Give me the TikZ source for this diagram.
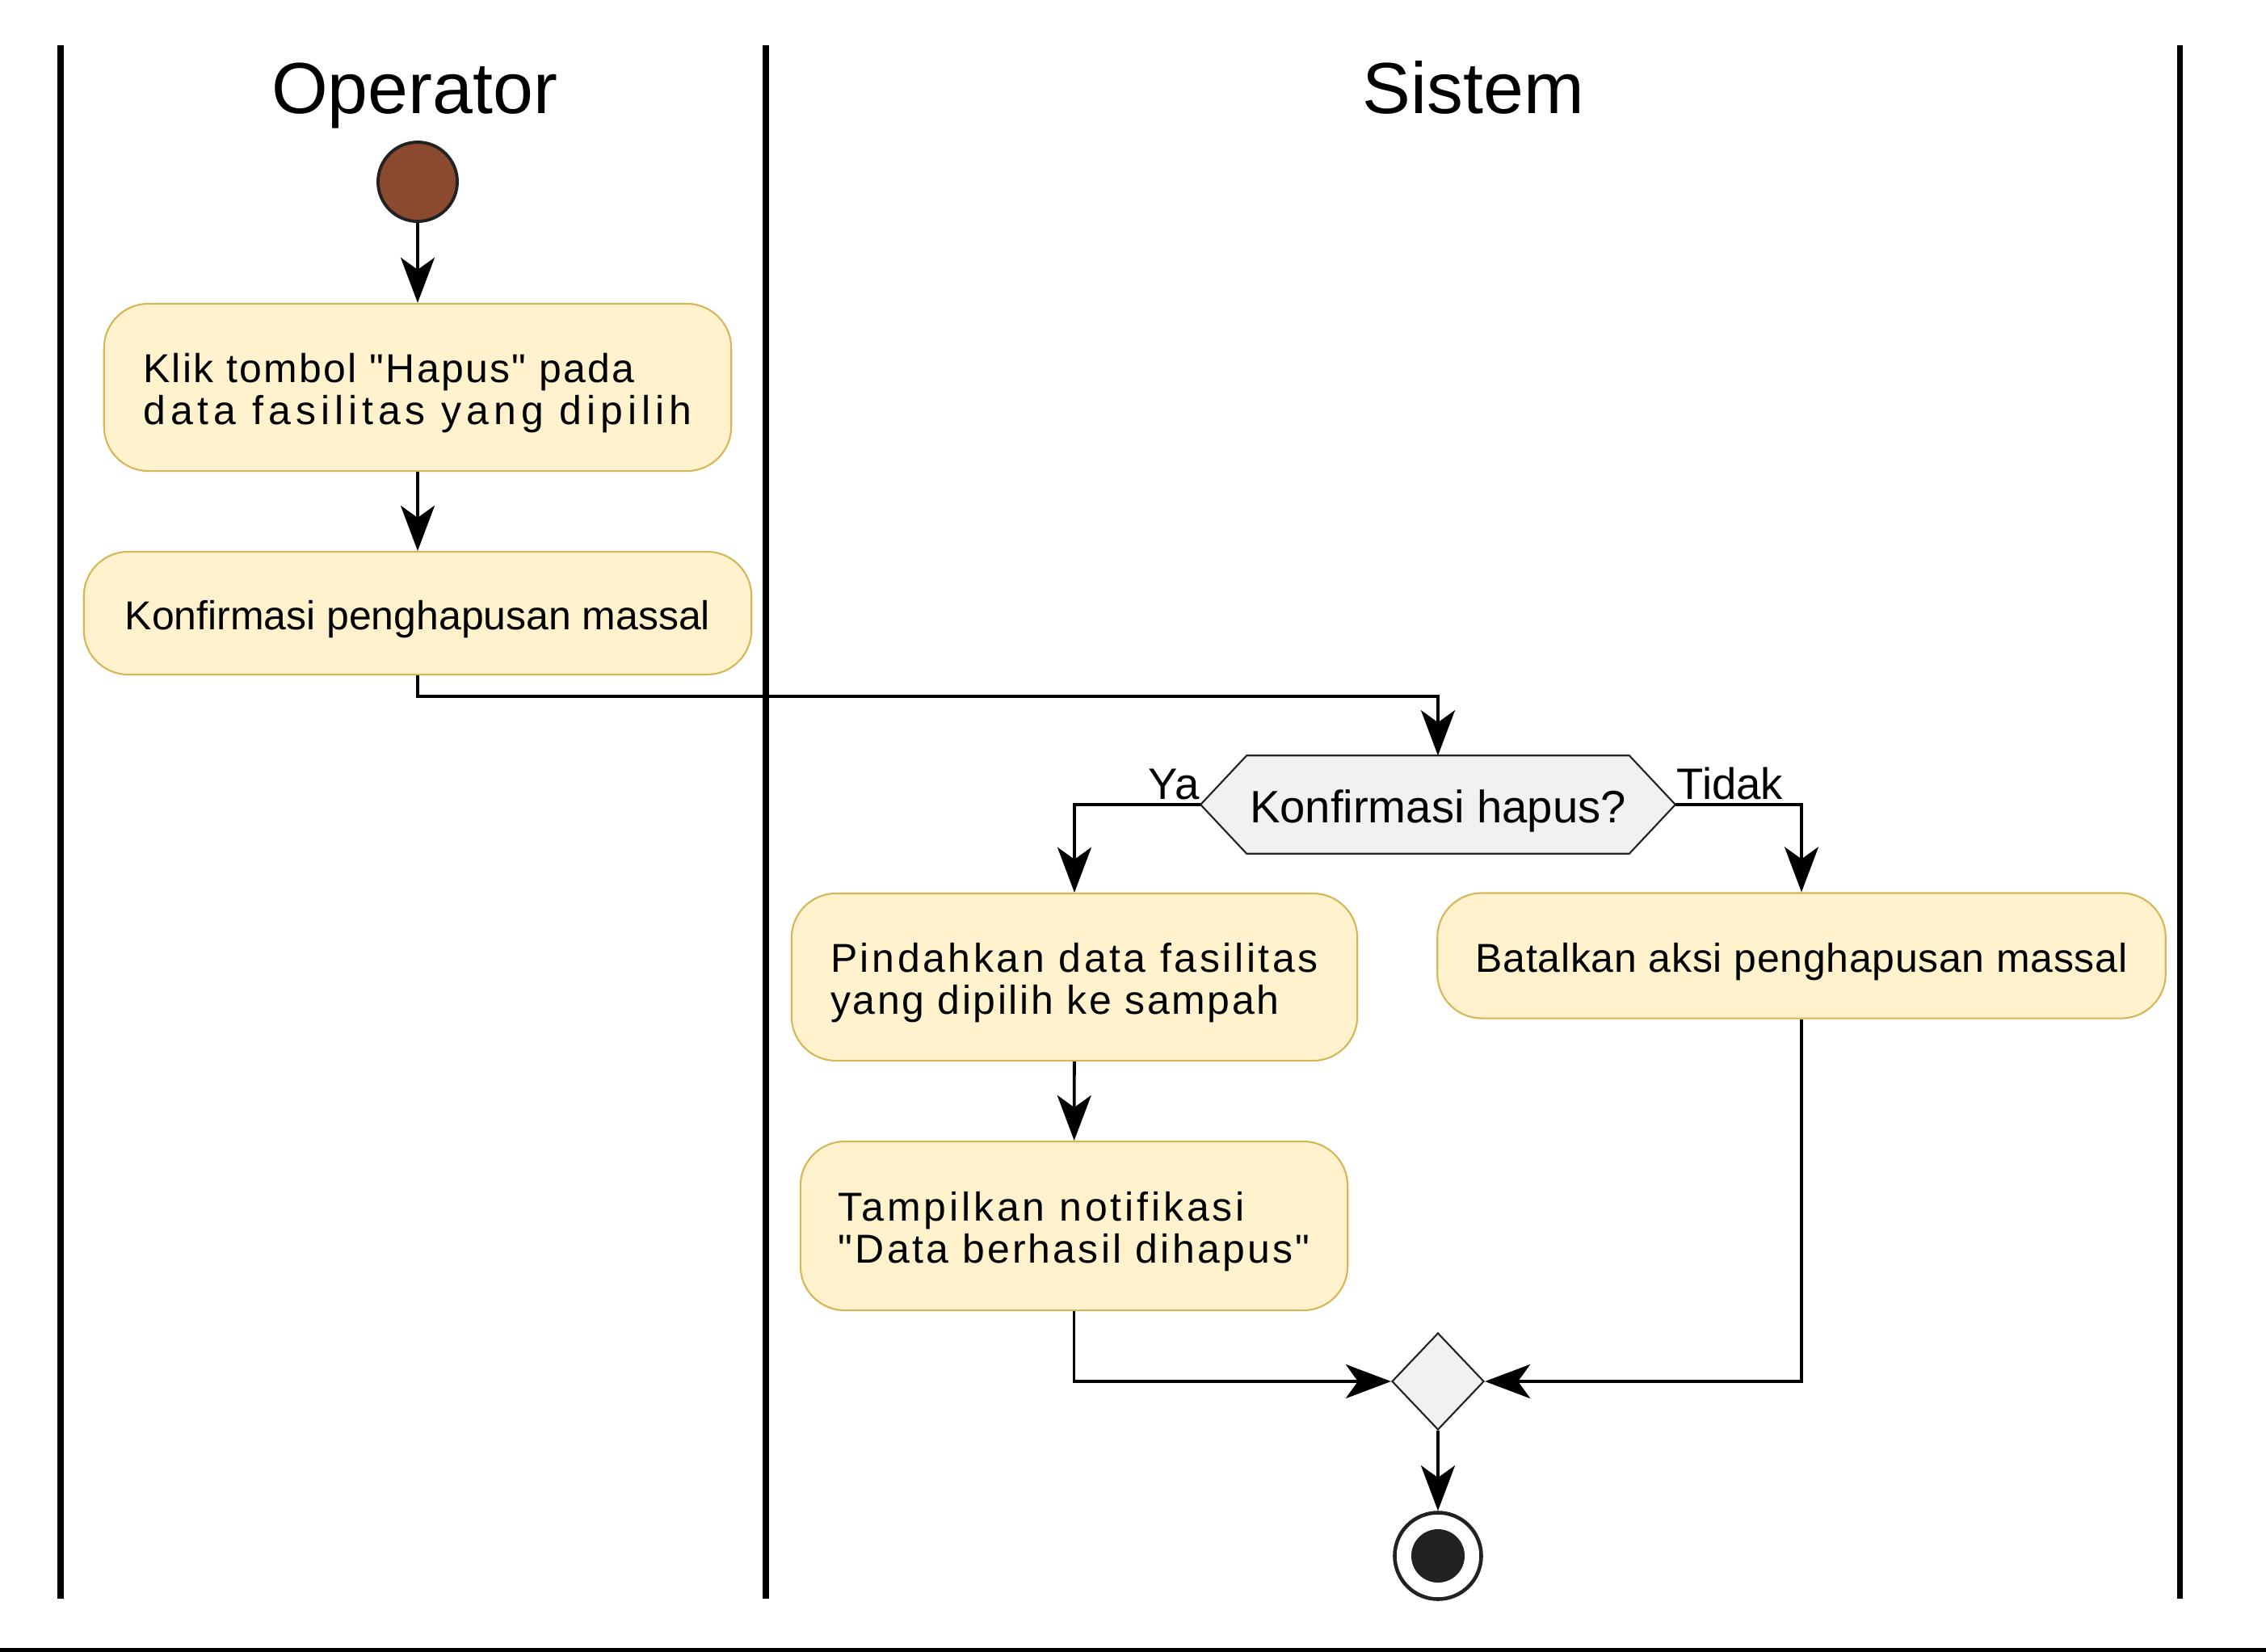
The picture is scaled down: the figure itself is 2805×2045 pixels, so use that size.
\documentclass[tikz,border=0pt]{standalone}
\usepackage{fontspec}
\setmainfont{Liberation Sans}[Ligatures=TeXOff]
\usetikzlibrary{arrows.meta,shapes.geometric}
\definecolor{actfill}{RGB}{255,242,204}
\definecolor{actdraw}{RGB}{214,182,86}
\definecolor{decfill}{RGB}{241,241,241}
\definecolor{startfill}{RGB}{139,74,47}
\definecolor{dark}{RGB}{34,34,34}
\newcommand\boxtext[1]{\raisebox{-0.1cm}[\height][\depth]{\begin{tabular}{@{}l@{}}#1\end{tabular}}}
\newcommand\ls[2]{{\addfontfeature{LetterSpace=#1}#2}}
\newcommand\dq{\char34\relax}
\begin{document}
\begin{tikzpicture}[x=0.01cm,y=-0.01cm,
  act/.style={draw=actdraw, fill=actfill, line width=0.6pt, rounded corners=0.55cm,
    inner sep=0pt, font=\fontsize{14.2}{14.8}\selectfont},
  flow/.style={line width=1.1pt, -{Stealth[length=5.6mm,width=4.2mm,inset=1.5mm]}},
  lane/.style={line width=2pt},
  title/.style={font=\fontsize{25.5}{30}\selectfont, anchor=base, inner sep=0pt},
  lab/.style={font=\fontsize{15.5}{18}\selectfont, inner sep=0pt},
]
\useasboundingbox (0,0) rectangle (2805,2045);
\fill[white] (0,0) rectangle (2805,2045);

% swimlanes
\draw[lane] (75,56) -- (75,1979);
\draw[lane] (948,56) -- (948,1979);
\draw[lane] (2698,56) -- (2698,1979);
\fill[black] (0,2040) rectangle (2805,2045);
\node[title] (t1) at (513,140) {Operator};
\node[title] (t2) at (1824,140) {Sistem};

% start
\node[circle, draw=dark, fill=startfill, line width=1.1pt, minimum size=0.98cm, inner sep=0pt] (s) at (517,225) {};

% activities
\node[act, minimum width=7.76cm, minimum height=2.07cm] (a1) at (517,479.5)
  {\boxtext{\ls{4.5}{Klik tombol \dq Hapus\dq{} pada}\\\ls{12}{data fasilitas yang dipilih}}};
\node[act, minimum width=8.26cm, minimum height=1.52cm] (a2) at (517,759)
  {\boxtext{Konfirmasi penghapusan massal}};

% decision
\node[minimum width=5.86cm, minimum height=1.2cm, inner sep=0pt] (d1) at (1780,996) {};
\draw[fill=decfill, draw=dark, line width=0.6pt]
  (d1.west) -- ([xshift=0.57cm]d1.north west) -- ([xshift=-0.57cm]d1.north east)
  -- (d1.east) -- ([xshift=-0.57cm]d1.south east) -- ([xshift=0.57cm]d1.south west) -- cycle;
\node[font=\fontsize{16}{18}\selectfont, anchor=base, inner sep=0pt] (d1t) at (1780,1018) {Konfirmasi hapus?};
\node[lab, anchor=base east] (ya) at (1485,989) {Ya};
\node[lab, anchor=base west] (tidak) at (2075,989) {Tidak};

\node[act, minimum width=7.0cm, minimum height=2.07cm] (a3) at (1330,1209.5)
  {\boxtext{\ls{7.3}{Pindahkan data fasilitas}\\\ls{5.3}{yang dipilih ke sampah}}};
\node[act, minimum width=9.01cm, minimum height=1.55cm] (a4) at (2230,1183)
  {\boxtext{\ls{1.5}{Batalkan aksi penghapusan massal}}};
\node[act, minimum width=6.77cm, minimum height=2.09cm] (a5) at (1329.5,1517.5)
  {\boxtext{\ls{7.8}{Tampilkan notifikasi}\\\ls{6.5}{\dq Data berhasil dihapus\dq}}};

% merge
\node[diamond, aspect=1, draw=dark, fill=decfill, line width=0.6pt, minimum width=1.14cm, minimum height=1.2cm, inner sep=0pt] (m) at (1780,1710) {};

% end
\node[circle, draw=dark, fill=white, line width=1.3pt, minimum size=1.07cm, inner sep=0pt] (e) at (1780,1926) {};
\node[circle, fill=dark, minimum size=0.66cm, inner sep=0pt] (ein) at (e) {};

% connectors
\draw[flow] (s) -- (a1);
\draw[flow] (a1) -- (a2);
\draw[flow] (a2.south) -- ++(0,26) -| (d1.north);
\draw[flow] (d1.west) -| (a3.north);
\draw[flow] (d1.east) -| (a4.north);
\draw[flow] (a3) -- (a5);
\draw[flow] (a5.south) |- (m.west);
\draw[flow] (a4.south) |- (m.east);
\draw[flow] (m.south) -- (e.north);
\end{tikzpicture}
\end{document}
